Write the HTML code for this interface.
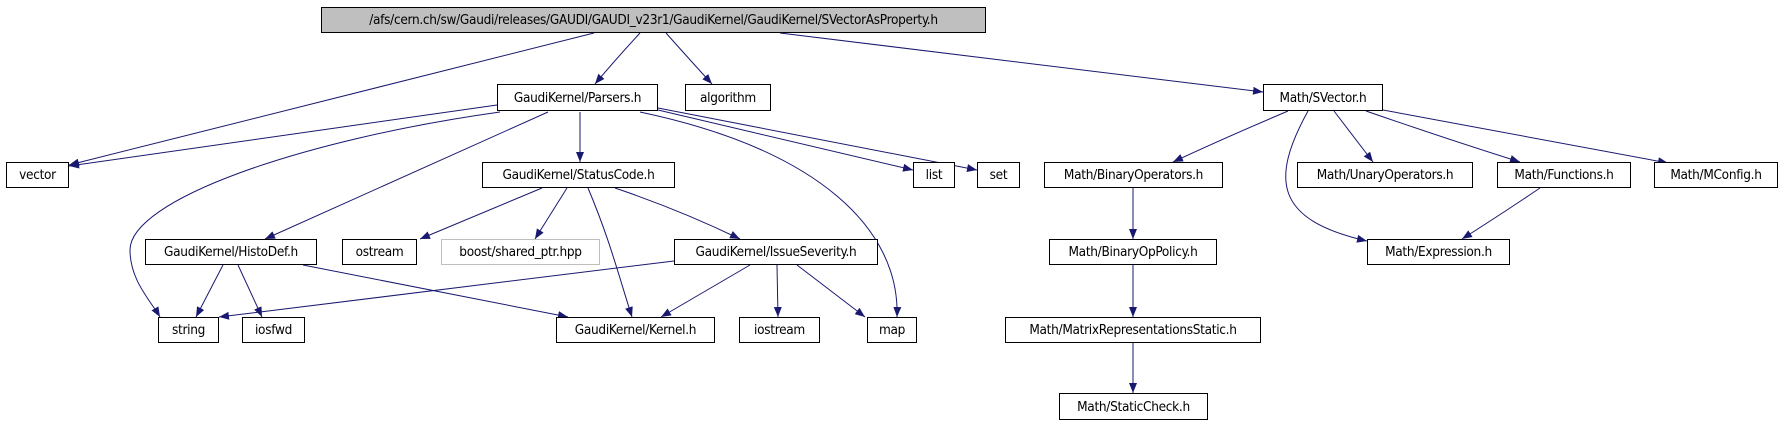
<!DOCTYPE html>
<html><head><meta charset="utf-8"><style>
html,body{margin:0;padding:0;background:#fff;}
body{width:1783px;height:427px;position:relative;overflow:hidden;font-family:"DejaVu Sans Condensed","DejaVu Sans","Liberation Sans",sans-serif;}
.n{position:absolute;box-sizing:border-box;border:1px solid #000;background:#fff;font-size:13.5px;display:flex;align-items:center;justify-content:center;white-space:nowrap;color:#000;letter-spacing:-0.3px;}
svg{position:absolute;left:0;top:0;}
</style></head><body>
<svg width="1783" height="427" viewBox="0 0 1783 427">
<defs><marker id="a" markerWidth="11" markerHeight="8" refX="10" refY="4" orient="auto" markerUnits="userSpaceOnUse"><path d="M0,0 L10,4 L0,8 z" fill="#191970"/></marker></defs>
<g fill="none" stroke="#191970" stroke-width="1" marker-end="url(#a)">
<path d="M594,33 L69,165"/>
<path d="M640,33 Q615,60 595,84"/>
<path d="M666,33 Q690,60 712,84"/>
<path d="M780,33 L1263,92"/>
<path d="M497,105 L69,166"/>
<path d="M500,112 C300,140 130,200 130,250 C130,280 150,300 160,317"/>
<path d="M548,112 L265,239"/>
<path d="M580,112 L580,162"/>
<path d="M640,112 C820,150 900,230 897,317"/>
<path d="M658,110 L913,170"/>
<path d="M658,108 L977,170"/>
<path d="M542,188 L420,239"/>
<path d="M567,188 L535,239"/>
<path d="M588,188 C610,240 620,280 632,317"/>
<path d="M615,188 Q680,210 740,239"/>
<path d="M223,265 L196,317"/>
<path d="M238,265 L262,317"/>
<path d="M303,265 L568,317"/>
<path d="M674,261 L219,317"/>
<path d="M750,265 L661,317"/>
<path d="M777,265 L778,317"/>
<path d="M797,265 L865,317"/>
<path d="M1288,111 Q1220,140 1173,162"/>
<path d="M1308,111 C1270,180 1275,220 1367,241"/>
<path d="M1334,111 L1373,162"/>
<path d="M1366,111 Q1450,140 1520,162"/>
<path d="M1383,110 L1668,163"/>
<path d="M1540,188 Q1500,215 1462,239"/>
<path d="M1133,188 L1133,239"/>
<path d="M1133,265 L1133,317"/>
<path d="M1133,343 L1133,393"/>
</g>
</svg>
<div class="n" style="left:321px;top:7px;width:665px;height:26px;background:#bfbfbf;">/afs/cern.ch/sw/Gaudi/releases/GAUDI/GAUDI_v23r1/GaudiKernel/GaudiKernel/SVectorAsProperty.h</div>
<div class="n" style="left:497px;top:84px;width:161px;height:27px;">GaudiKernel/Parsers.h</div>
<div class="n" style="left:685px;top:84px;width:86px;height:27px;">algorithm</div>
<div class="n" style="left:1263px;top:84px;width:120px;height:27px;">Math/SVector.h</div>
<div class="n" style="left:6px;top:162px;width:63px;height:26px;">vector</div>
<div class="n" style="left:482px;top:162px;width:193px;height:26px;">GaudiKernel/StatusCode.h</div>
<div class="n" style="left:913px;top:162px;width:42px;height:26px;">list</div>
<div class="n" style="left:977px;top:162px;width:43px;height:26px;">set</div>
<div class="n" style="left:1044px;top:162px;width:179px;height:26px;">Math/BinaryOperators.h</div>
<div class="n" style="left:1297px;top:162px;width:176px;height:26px;">Math/UnaryOperators.h</div>
<div class="n" style="left:1497px;top:162px;width:134px;height:26px;">Math/Functions.h</div>
<div class="n" style="left:1654px;top:162px;width:124px;height:26px;">Math/MConfig.h</div>
<div class="n" style="left:145px;top:239px;width:172px;height:26px;">GaudiKernel/HistoDef.h</div>
<div class="n" style="left:342px;top:239px;width:75px;height:26px;">ostream</div>
<div class="n" style="left:441px;top:239px;width:159px;height:26px;border-color:#bfbfbf;">boost/shared_ptr.hpp</div>
<div class="n" style="left:674px;top:239px;width:204px;height:26px;">GaudiKernel/IssueSeverity.h</div>
<div class="n" style="left:1049px;top:239px;width:168px;height:26px;">Math/BinaryOpPolicy.h</div>
<div class="n" style="left:1367px;top:239px;width:143px;height:26px;">Math/Expression.h</div>
<div class="n" style="left:158px;top:317px;width:61px;height:26px;">string</div>
<div class="n" style="left:242px;top:317px;width:63px;height:26px;">iosfwd</div>
<div class="n" style="left:556px;top:317px;width:159px;height:26px;">GaudiKernel/Kernel.h</div>
<div class="n" style="left:739px;top:317px;width:81px;height:26px;">iostream</div>
<div class="n" style="left:867px;top:317px;width:50px;height:26px;">map</div>
<div class="n" style="left:1005px;top:317px;width:256px;height:26px;">Math/MatrixRepresentationsStatic.h</div>
<div class="n" style="left:1059px;top:393px;width:149px;height:27px;">Math/StaticCheck.h</div>
</body></html>
